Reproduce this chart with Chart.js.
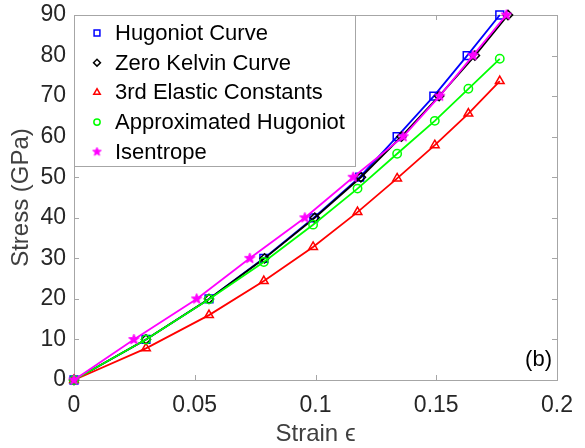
<!DOCTYPE html>
<html>
<head>
<meta charset="utf-8">
<script src="https://cdn.jsdelivr.net/npm/chart.js@4.4.0/dist/chart.umd.min.js"></script>
<style>
  html, body { margin: 0; padding: 0; background: #fff; }
</style>
</head>
<body>
<canvas id="stress-chart" width="585" height="448"></canvas>
<script>
// stress (GPa) vs strain for each model
var strainHugoniot = [0, 0.0298, 0.0559, 0.0786, 0.0993, 0.1183, 0.1338, 0.1490, 0.1628, 0.1763];
var stressHugoniot = [0, 10, 20, 30, 40, 50, 60, 70, 80, 90];

var strainKelvin = [0, 0.0298, 0.0559, 0.0789, 0.0997, 0.1188, 0.1356, 0.1512, 0.1660, 0.1797];
var stressKelvin = [0, 10, 20, 30, 40, 50, 60, 70, 80, 90];

var strainElastic = [0, 0.0298, 0.0559, 0.0786, 0.0990, 0.1174, 0.1338, 0.1494, 0.1633, 0.1763];
var stressElastic = [0, 7.8, 16.0, 24.4, 32.8, 41.4, 49.7, 57.9, 65.7, 73.7];

var strainApprox = [0, 0.0298, 0.0559, 0.0786, 0.0990, 0.1174, 0.1338, 0.1494, 0.1633, 0.1763];
var stressApprox = [0, 10.0, 19.9, 29.1, 38.3, 47.2, 55.8, 63.9, 71.8, 79.2];

var strainIsentrope = [0, 0.0248, 0.0508, 0.0728, 0.0956, 0.1156, 0.1363, 0.1514, 0.1652, 0.1790];
var stressIsentrope = [0, 10, 20, 30, 40, 50, 60, 70, 80, 90];

var xTicks = [0, 0.05, 0.1, 0.15, 0.2];
var yTicks = [0, 10, 20, 30, 40, 50, 60, 70, 80, 90];

var FONT = '"Liberation Sans", Arial, Helvetica, sans-serif';
var FRAME = '#a6a6a6';

function toPoints(xs, ys) {
    return xs.map(function (x, i) { return { x: x, y: ys[i] }; });
}

// filled five-point star marker
function makeStar(color, r) {
    var c = document.createElement('canvas');
    var s = Math.ceil(r * 2 + 4);
    c.width = s; c.height = s;
    var g = c.getContext('2d');
    g.beginPath();
    for (var i = 0; i < 10; i++) {
        var rad = i % 2 === 0 ? r : r * 0.42;
        var a = -Math.PI / 2 + i * Math.PI / 5;
        var px = s / 2 + rad * Math.cos(a), py = s / 2 + rad * Math.sin(a);
        if (i === 0) g.moveTo(px, py); else g.lineTo(px, py);
    }
    g.closePath();
    g.fillStyle = color;
    g.strokeStyle = color;
    g.lineWidth = 1;
    g.fill();
    g.stroke();
    return c;
}
var starMarker = makeStar('#ff00ff', 5.5);
var starLegend = makeStar('#ff00ff', 4.5);

function series(label, xs, ys, color, style, radius, order) {
    return {
        label: label,
        data: toPoints(xs, ys),
        showLine: true,
        borderColor: color,
        backgroundColor: 'rgba(0,0,0,0)',
        borderWidth: 1.8,
        pointStyle: style,
        pointRadius: radius,
        pointHoverRadius: radius,
        pointBorderColor: color,
        pointBackgroundColor: 'rgba(0,0,0,0)',
        pointBorderWidth: 1.5,
        clip: false,
        order: order
    };
}

var datasets = [
    series('Hugoniot Curve', strainHugoniot, stressHugoniot, '#0000ff', 'rect', 5.5, 5),
    series('Zero Kelvin Curve', strainKelvin, stressKelvin, '#000000', 'rectRot', 4.6, 4),
    series('3rd Elastic Constants', strainElastic, stressElastic, '#ff0000', 'triangle', 5, 3),
    series('Approximated Hugoniot', strainApprox, stressApprox, '#00ff00', 'circle', 4.2, 2),
    series('Isentrope', strainIsentrope, stressIsentrope, '#ff00ff', starMarker, 5, 1)
];

// box around the axes with inward ticks on all four sides
var framePlugin = {
    id: 'frame',
    beforeDatasetsDraw: function (chart) {
        var ctx = chart.ctx, a = chart.chartArea;
        var xs = chart.scales.x, ys = chart.scales.y;
        var tk = 5;
        ctx.save();
        ctx.strokeStyle = FRAME;
        ctx.lineWidth = 1;
        ctx.strokeRect(a.left + 0.5, a.top + 0.5, a.right - a.left, a.bottom - a.top);
        ctx.beginPath();
        xTicks.forEach(function (v) {
            var px = Math.round(xs.getPixelForValue(v)) + 0.5;
            ctx.moveTo(px, a.bottom); ctx.lineTo(px, a.bottom - tk);
            ctx.moveTo(px, a.top); ctx.lineTo(px, a.top + tk);
        });
        yTicks.forEach(function (v) {
            var py = Math.round(ys.getPixelForValue(v)) + 0.5;
            ctx.moveTo(a.left, py); ctx.lineTo(a.left + tk, py);
            ctx.moveTo(a.right, py); ctx.lineTo(a.right - tk, py);
        });
        ctx.stroke();
        ctx.restore();
    },
    afterDatasetsDraw: function (chart) {
        var ctx = chart.ctx, a = chart.chartArea;
        ctx.save();
        ctx.fillStyle = '#000';
        ctx.font = '22px ' + FONT;
        ctx.textAlign = 'right';
        ctx.textBaseline = 'middle';
        ctx.fillText('(b)', a.right - 5, a.bottom - 20);
        ctx.restore();
    }
};

// boxed legend in the upper-left corner of the plot
var legendPlugin = {
    id: 'boxLegend',
    afterDatasetsDraw: function (chart) {
        var ctx = chart.ctx, a = chart.chartArea;
        var left = a.left, top = a.top, w = 281, h = 151;
        var rowH = 29.7, firstRow = 18;
        ctx.save();
        ctx.fillStyle = '#fff';
        ctx.fillRect(left, top, w, h);
        ctx.strokeStyle = FRAME;
        ctx.lineWidth = 1;
        ctx.strokeRect(left + 0.5, top + 0.5, w, h);
        ctx.font = '22px ' + FONT;
        ctx.textBaseline = 'middle';
        ctx.textAlign = 'left';
        datasets.forEach(function (ds, i) {
            var cy = top + firstRow + i * rowH;
            ctx.save();
            ctx.strokeStyle = ds.pointBorderColor;
            ctx.fillStyle = ds.pointBackgroundColor;
            ctx.lineWidth = 1.5;
            Chart.helpers.drawPoint(ctx, {
                pointStyle: ds.pointStyle === starMarker ? starLegend : ds.pointStyle,
                radius: ds.pointRadius * 0.75,
                rotation: 0,
                borderWidth: 1.5
            }, left + 23, cy);
            ctx.restore();
            ctx.fillStyle = '#000';
            ctx.fillText(ds.label, left + 41, cy + 1);
        });
        ctx.restore();
    }
};

var config = {
    type: 'scatter',
    data: { datasets: datasets },
    options: {
        responsive: false,
        animation: false,
        events: [],
        layout: { padding: { left: 0, right: 28, top: 15, bottom: 0 } },
        plugins: {
            legend: { display: false },
            tooltip: { enabled: false }
        },
        scales: {
            x: {
                type: 'linear',
                min: 0,
                max: 0.2,
                afterBuildTicks: function (scale) {
                    scale.ticks = xTicks.map(function (v) { return { value: v }; });
                },
                afterFit: function (scale) {
                    scale.height = 68;
                    scale.paddingLeft = 0;
                    scale.paddingRight = 0;
                },
                grid: { display: false, drawTicks: false },
                border: { display: false },
                ticks: {
                    color: '#262626',
                    font: { family: FONT, size: 23 },
                    padding: 12,
                    maxRotation: 0,
                    callback: function (v) { return String(+v.toFixed(2)); }
                },
                title: {
                    display: true,
                    text: 'Strain \u03f5',
                    color: '#404040',
                    font: { family: FONT, size: 24, lineHeight: 1.1 },
                    padding: 0
                }
            },
            y: {
                type: 'linear',
                min: 0,
                max: 90,
                afterBuildTicks: function (scale) {
                    scale.ticks = yTicks.map(function (v) { return { value: v }; });
                },
                afterFit: function (scale) {
                    scale.width = 74;
                    scale.paddingTop = 0;
                    scale.paddingBottom = 0;
                },
                grid: { display: false, drawTicks: false },
                border: { display: false },
                ticks: {
                    color: '#262626',
                    font: { family: FONT, size: 23 },
                    padding: 8
                },
                title: {
                    display: true,
                    text: 'Stress (GPa)',
                    color: '#404040',
                    font: { family: FONT, size: 24, lineHeight: 1.1 },
                    padding: { top: 8, bottom: 0 }
                }
            }
        }
    },
    plugins: [framePlugin, legendPlugin]
};

var ctx = document.getElementById('stress-chart').getContext('2d');
window.stressChart = new Chart(ctx, config);
</script>
</body>
</html>
